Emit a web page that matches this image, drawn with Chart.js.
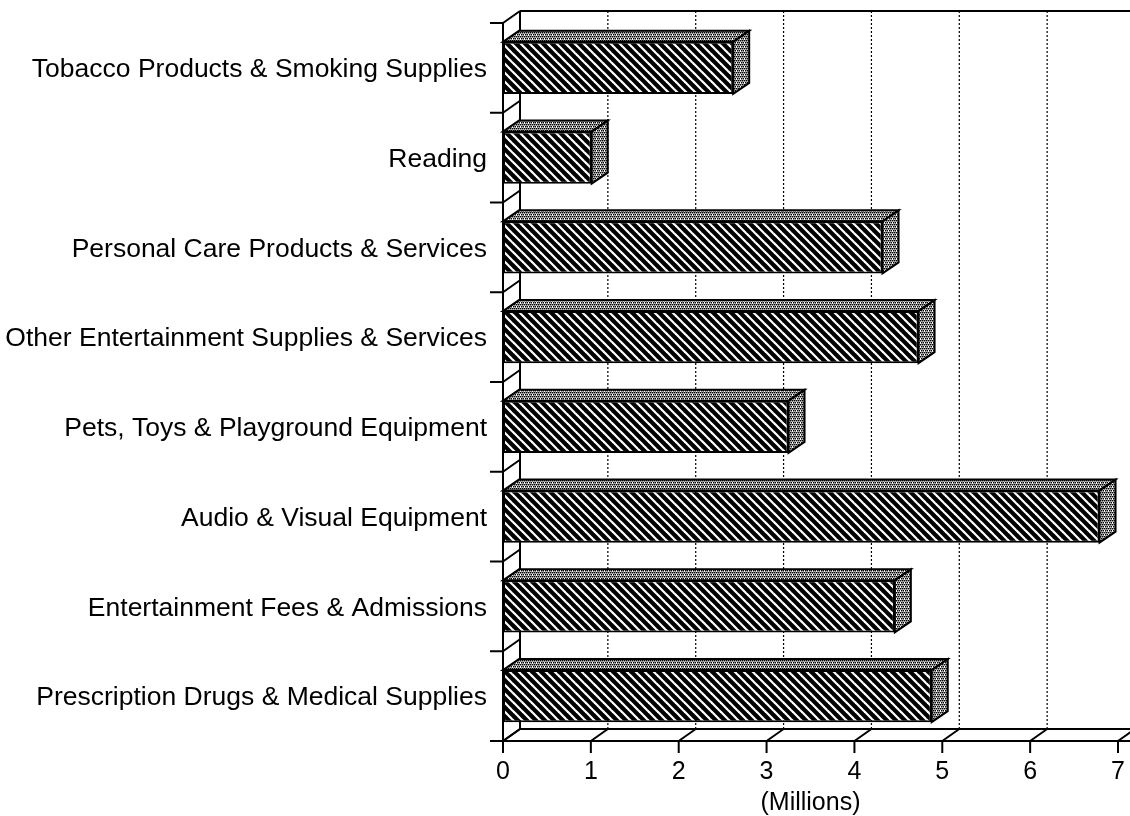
<!DOCTYPE html>
<html>
<head>
<meta charset="utf-8">
<script src="https://cdn.jsdelivr.net/npm/chart.js@4.4.1/dist/chart.umd.min.js"></script>
<style>
    html, body { margin: 0; padding: 0; background: #fff; }
    canvas { display: block; }
</style>
</head>
<body>
<canvas id="spendChart" width="1130" height="816"></canvas>
<script>
// Spending by category, in millions
const categories = [
    'Tobacco Products & Smoking Supplies',
    'Reading',
    'Personal Care Products & Services',
    'Other Entertainment Supplies & Services',
    'Pets, Toys & Playground Equipment',
    'Audio & Visual Equipment',
    'Entertainment Fees & Admissions',
    'Prescription Drugs & Medical Supplies'
];
const spending = [2.62, 1.01, 4.32, 4.73, 3.25, 6.79, 4.46, 4.88];
const axisMin = 0;
const axisMax = 7;
const axisStep = 1;

// depth of the walls and of the bars
const wallDX = 17, wallDY = 12;
const barDX = 16, barDY = 11;

function stripePattern() {
    const s = 9;
    const c = document.createElement('canvas');
    c.width = s; c.height = s;
    const g = c.getContext('2d');
    g.fillStyle = '#000';
    g.fillRect(0, 0, s, s);
    g.strokeStyle = '#fff';
    g.lineWidth = 2.2;
    for (let k = -1; k <= 1; k++) {
        g.beginPath();
        g.moveTo(-2, -2 + k * s);
        g.lineTo(s + 2, s + 2 + k * s);
        g.stroke();
    }
    return g.createPattern(c, 'repeat');
}

function dotPattern() {
    const c = document.createElement('canvas');
    c.width = 4; c.height = 4;
    const g = c.getContext('2d');
    g.fillStyle = '#fff';
    g.fillRect(0, 0, 4, 4);
    g.fillStyle = '#000';
    [[0, 0], [2, 0], [1, 2], [3, 2]].forEach(p => g.fillRect(p[0], p[1], 1.5, 1.5));
    return g.createPattern(c, 'repeat');
}

const stripes = stripePattern();
const dots = dotPattern();

function line(ctx, x1, y1, x2, y2) {
    ctx.beginPath();
    ctx.moveTo(x1, y1);
    ctx.lineTo(x2, y2);
    ctx.stroke();
}

// left wall, floor and back-wall grid
const walls = {
    id: 'walls',
    beforeDatasetsDraw(chart) {
        const ctx = chart.ctx;
        const a = chart.chartArea;
        const xs = chart.scales.x;
        const W = chart.width;
        const band = (a.bottom - a.top) / categories.length;
        ctx.save();
        ctx.strokeStyle = '#000';
        ctx.lineCap = 'butt';

        // dotted gridlines on the back wall
        ctx.lineWidth = 1.2;
        ctx.setLineDash([2, 2]);
        for (let v = axisMin + axisStep; v < axisMax; v += axisStep) {
            const px = xs.getPixelForValue(v) + wallDX;
            line(ctx, px, a.top - wallDY, px, a.bottom - wallDY);
        }
        ctx.setLineDash([]);

        ctx.lineWidth = 2;
        // back wall top edge and left edge
        line(ctx, a.left + wallDX, a.top - wallDY, W, a.top - wallDY);
        line(ctx, a.left + wallDX, a.top - wallDY, a.left + wallDX, a.bottom - wallDY);
        // front left edge
        line(ctx, a.left, a.top, a.left, a.bottom + 12);
        // category boundaries on the left wall
        for (let i = 0; i <= categories.length; i++) {
            const y = a.top + i * band;
            line(ctx, a.left - 13, y, a.left, y);
            line(ctx, a.left, y, a.left + wallDX, y - wallDY);
        }
        // floor
        line(ctx, a.left - 13, a.bottom, W, a.bottom);
        line(ctx, a.left + wallDX, a.bottom - wallDY, W, a.bottom - wallDY);
        for (let v = axisMin; v <= axisMax; v += axisStep) {
            const px = xs.getPixelForValue(v);
            line(ctx, px, a.bottom, px, a.bottom + 12);
            line(ctx, px, a.bottom, px + wallDX, a.bottom - wallDY);
        }
        ctx.restore();
    }
};

// top and end faces of each bar
const barDepth = {
    id: 'barDepth',
    afterDatasetsDraw(chart) {
        const ctx = chart.ctx;
        const meta = chart.getDatasetMeta(0);
        ctx.save();
        ctx.strokeStyle = '#000';
        ctx.lineWidth = 2;
        ctx.lineJoin = 'miter';
        meta.data.forEach(bar => {
            const p = bar.getProps(['x', 'y', 'base', 'height'], true);
            const top = p.y - p.height / 2;
            const bottom = p.y + p.height / 2;
            ctx.fillStyle = dots;
            ctx.beginPath();
            ctx.moveTo(p.base, top);
            ctx.lineTo(p.base + barDX, top - barDY);
            ctx.lineTo(p.x + barDX, top - barDY);
            ctx.lineTo(p.x, top);
            ctx.closePath();
            ctx.fill();
            ctx.stroke();
            ctx.beginPath();
            ctx.moveTo(p.x, top);
            ctx.lineTo(p.x + barDX, top - barDY);
            ctx.lineTo(p.x + barDX, bottom - barDY);
            ctx.lineTo(p.x, bottom);
            ctx.closePath();
            ctx.fill();
            ctx.stroke();
        });
        ctx.restore();
    }
};

const labelFont = "'Liberation Sans', Arial, sans-serif";

new Chart(document.getElementById('spendChart').getContext('2d'), {
    type: 'bar',
    data: {
        labels: categories,
        datasets: [{
            data: spending,
            backgroundColor: stripes,
            borderColor: '#000',
            borderWidth: 2,
            borderSkipped: false,
            categoryPercentage: 1,
            barPercentage: 0.58
        }]
    },
    options: {
        indexAxis: 'y',
        responsive: false,
        animation: false,
        layout: { padding: { top: 23, right: 12, left: 0, bottom: 0 } },
        plugins: { legend: { display: false }, tooltip: { enabled: false } },
        scales: {
            x: {
                min: axisMin,
                max: axisMax,
                grid: { display: false, drawTicks: false },
                border: { display: false },
                ticks: { stepSize: axisStep, padding: 16, color: '#000', font: { family: labelFont, size: 25 } },
                title: { display: true, text: '(Millions)', color: '#000', padding: { top: 0, bottom: 0 }, font: { family: labelFont, size: 25, lineHeight: 1.0 } },
                afterFit(scale) {
                    scale.height = 75;
                    scale.paddingLeft = 0;
                    scale.paddingRight = 0;
                }
            },
            y: {
                grid: { display: false, drawTicks: false },
                border: { display: false },
                ticks: { padding: 16, labelOffset: 2, color: '#000', font: { family: labelFont, size: 26.5 } },
                afterFit(scale) {
                    scale.width = 503;
                    scale.paddingTop = 0;
                    scale.paddingBottom = 0;
                }
            }
        }
    },
    plugins: [walls, barDepth]
});
</script>
</body>
</html>
